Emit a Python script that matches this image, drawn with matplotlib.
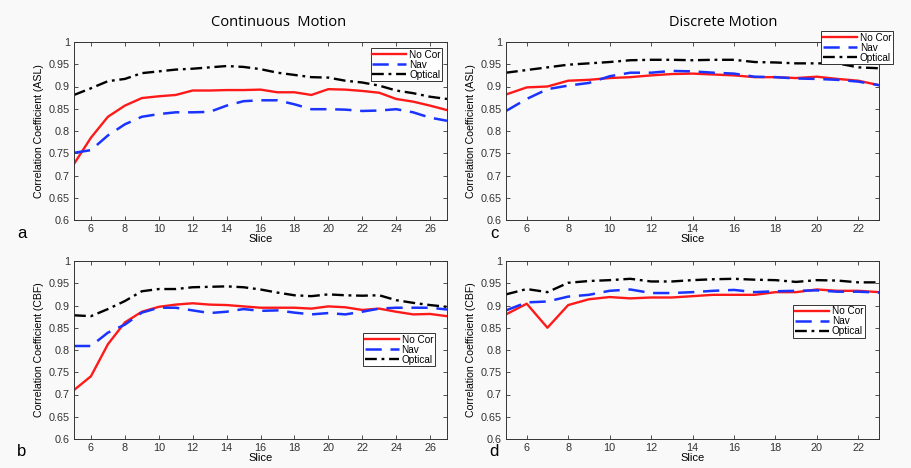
import matplotlib
matplotlib.use("Agg")
import matplotlib.pyplot as plt

# slice positions
slices_cont = list(range(5, 28))
slices_disc = list(range(5, 24))

# Continuous motion, ASL
a_nocor = [0.726, 0.785, 0.832, 0.857, 0.874, 0.878, 0.881, 0.891, 0.891, 0.892, 0.892, 0.893,
           0.887, 0.887, 0.881, 0.894, 0.893, 0.890, 0.886, 0.872, 0.866, 0.857, 0.847]
a_nav = [0.751, 0.757, 0.790, 0.815, 0.832, 0.838, 0.842, 0.842, 0.843, 0.857, 0.867, 0.869,
         0.869, 0.860, 0.849, 0.849, 0.848, 0.845, 0.846, 0.849, 0.842, 0.830, 0.823]
a_opt = [0.881, 0.896, 0.912, 0.917, 0.930, 0.934, 0.938, 0.940, 0.943, 0.946, 0.944, 0.939,
         0.931, 0.926, 0.921, 0.920, 0.913, 0.909, 0.902, 0.891, 0.885, 0.877, 0.872]

# Continuous motion, CBF
b_nocor = [0.710, 0.741, 0.813, 0.862, 0.886, 0.897, 0.902, 0.905, 0.902, 0.901, 0.898, 0.895,
           0.895, 0.895, 0.893, 0.898, 0.896, 0.890, 0.893, 0.886, 0.880, 0.881, 0.876]
b_nav = [0.809, 0.809, 0.839, 0.857, 0.884, 0.895, 0.895, 0.889, 0.883, 0.886, 0.892, 0.888,
         0.889, 0.884, 0.880, 0.883, 0.880, 0.886, 0.893, 0.895, 0.895, 0.895, 0.891]
b_opt = [0.878, 0.876, 0.892, 0.910, 0.932, 0.937, 0.937, 0.941, 0.942, 0.943, 0.941, 0.936,
         0.929, 0.923, 0.921, 0.925, 0.923, 0.922, 0.923, 0.912, 0.906, 0.901, 0.897]

# Discrete motion, ASL
c_nocor = [0.882, 0.898, 0.900, 0.913, 0.915, 0.919, 0.921, 0.925, 0.928, 0.929, 0.927, 0.925,
           0.921, 0.921, 0.919, 0.922, 0.917, 0.913, 0.903]
c_nav = [0.845, 0.872, 0.894, 0.902, 0.908, 0.923, 0.931, 0.931, 0.935, 0.934, 0.931, 0.929,
         0.922, 0.921, 0.918, 0.917, 0.915, 0.911, 0.903]
c_opt = [0.931, 0.937, 0.943, 0.949, 0.952, 0.955, 0.959, 0.960, 0.960, 0.959, 0.960, 0.960,
         0.955, 0.954, 0.952, 0.952, 0.952, 0.943, 0.941]

# Discrete motion, CBF
d_nocor = [0.880, 0.904, 0.850, 0.901, 0.914, 0.919, 0.916, 0.918, 0.918, 0.921, 0.924, 0.924,
           0.924, 0.930, 0.930, 0.936, 0.933, 0.933, 0.930]
d_nav = [0.889, 0.907, 0.909, 0.920, 0.924, 0.933, 0.936, 0.928, 0.928, 0.930, 0.933, 0.935,
         0.930, 0.932, 0.933, 0.934, 0.931, 0.931, 0.929]
d_opt = [0.925, 0.937, 0.930, 0.951, 0.955, 0.957, 0.960, 0.954, 0.954, 0.957, 0.959, 0.960,
         0.958, 0.957, 0.953, 0.957, 0.956, 0.952, 0.952]

series_names = ["No Cor", "Nav", "Optical"]
ytick_vals = [0.6, 0.65, 0.7, 0.75, 0.8, 0.85, 0.9, 0.95, 1.0]
ytick_labels = ["0.6", "0.65", "0.7", "0.75", "0.8", "0.85", "0.9", "0.95", "1"]

plt.rcParams['font.family'] = ['Liberation Sans', 'DejaVu Sans']

W, H = 911, 468
fig = plt.figure(figsize=(W / 100, H / 100), dpi=100)
fig.patch.set_facecolor('#f9f9f9')


def make_panel(rect, x, nocor, nav, opt, xmax, ylabel, xticks, leg_anchor):
	ax = fig.add_axes(rect)
	ax.set_facecolor('#f9f9f9')
	ax.plot(x, nocor, color='#ff1a1a', lw=1.7, label=series_names[0])
	ax.plot(x, nav, color='#1a33ff', lw=1.8, ls=(0, (6.5, 3.5)), label=series_names[1])
	ax.plot(x, opt, color='black', lw=1.7, ls=(0, (5, 2, 1.2, 2)), label=series_names[2])
	ax.set_xlim(5, xmax)
	ax.set_ylim(0.6, 1.0)
	ax.set_xticks(xticks)
	ax.set_yticks(ytick_vals)
	ax.set_yticklabels(ytick_labels)
	ax.tick_params(direction='in', top=True, right=True, labelsize=7.8,
	               length=3, width=0.6, colors='#333333', pad=3)
	for s in ax.spines.values():
		s.set_linewidth(0.7)
		s.set_color('#333333')
	ax.set_xlabel("Slice", fontsize=8, labelpad=0)
	ax.set_ylabel(ylabel, fontsize=7.6, labelpad=3)
	leg = ax.legend(loc='upper left', bbox_to_anchor=leg_anchor, fontsize=7.2,
	                handlelength=3.4, handletextpad=0.3, borderpad=0.15,
	                labelspacing=0.0, fancybox=False, framealpha=1,
	                edgecolor='#333333', borderaxespad=0)
	leg.get_frame().set_linewidth(0.7)
	leg.get_frame().set_facecolor('white')
	return ax


axw = 373 / W
axh = 178 / H
make_panel([74 / W, (H - 220) / H, axw, axh], slices_cont, a_nocor, a_nav, a_opt, 27,
           "Correlation Coefficient (ASL)", list(range(6, 27, 2)), (0.795, 0.965))
make_panel([74 / W, (H - 439) / H, axw, axh], slices_cont, b_nocor, b_nav, b_opt, 27,
           "Correlation Coefficient (CBF)", list(range(6, 27, 2)), (0.775, 0.595))
make_panel([506 / W, (H - 220) / H, axw, axh], slices_disc, c_nocor, c_nav, c_opt, 23,
           "Correlation Coefficient (ASL)", list(range(6, 23, 2)), (0.845, 1.06))
make_panel([506 / W, (H - 439) / H, axw, axh], slices_disc, d_nocor, d_nav, d_opt, 23,
           "Correlation Coefficient (CBF)", list(range(6, 23, 2)), (0.77, 0.755))

fig.text(279 / W, 1 - 22 / H, "Continuous  Motion", ha='center', va='center',
         fontsize=10.5, family=['Open Sans', 'DejaVu Sans'])
fig.text(723 / W, 1 - 22 / H, "Discrete Motion", ha='center', va='center',
         fontsize=10.5, family=['Open Sans', 'DejaVu Sans'])

for lab, px, py in [("a", 22, 233), ("b", 22, 452), ("c", 494, 233), ("d", 494, 452)]:
	fig.text(px / W, 1 - py / H, lab, ha='center', va='center', fontsize=12)

fig.savefig("out.png", dpi=100, facecolor=fig.get_facecolor())
